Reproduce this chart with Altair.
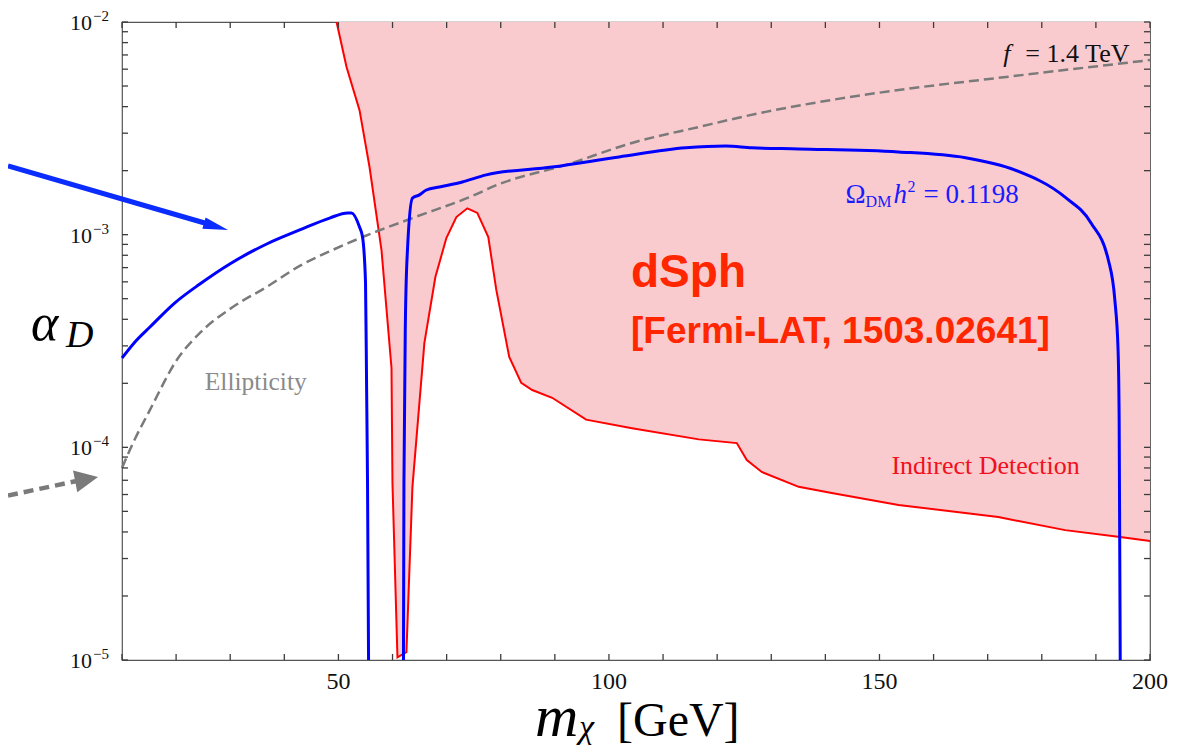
import altair as alt
import pandas as pd

# ---------------- data ----------------
# Relic-density curve (Omega_DM h^2 = 0.1198), left branch
relic_left_x = [10.0, 12.4, 15.17, 19.78, 24.39, 29.92, 36.75, 42.84, 48.37, 51.69,
                52.43, 53.9, 54.46, 55.01, 55.2, 55.38, 55.57]
relic_left_y = [2.63e-4, 3.13e-4, 3.68e-4, 4.78e-4, 5.86e-4, 7.28e-4, 9.04e-4, 1.052e-3,
                1.197e-3, 1.265e-3, 1.265e-3, 1.086e-3, 9.75e-4, 5.93e-4, 2.01e-4, 6.79e-5, 1e-5]
# right branch
relic_right_x = [62.02, 62.11, 62.39, 62.76, 63.68, 64.97, 66.26, 68.66, 72.9, 77.33, 89.5,
                 101.87, 114.2, 121.6, 126.4, 135.07, 153.5, 165.9, 175.1, 184.3, 189.1,
                 192.3, 193.5, 194.1, 194.3, 194.5]
relic_right_y = [1e-5, 6.79e-5, 4.10e-4, 8.47e-4, 1.486e-3, 1.538e-3, 1.622e-3, 1.675e-3,
                 1.770e-3, 1.910e-3, 2.08e-3, 2.32e-3, 2.56e-3, 2.61e-3, 2.56e-3, 2.53e-3,
                 2.45e-3, 2.30e-3, 2.01e-3, 1.50e-3, 1.135e-3, 7.60e-4, 4.93e-4, 2.87e-4,
                 1.35e-4, 1e-5]
# Ellipticity bound (f = 1.4 TeV), dashed
ellip_x = [10.0, 12.03, 15.17, 20.15, 24.39, 30.48, 36.75, 42.84, 48.92, 54.46, 63.68, 74.19,
           79.73, 92.09, 104.26, 116.62, 128.98, 141.16, 153.52, 171.96, 200.0]
ellip_y = [8.0e-5, 1.047e-4, 1.50e-4, 2.58e-4, 3.45e-4, 4.57e-4, 5.68e-4, 7.13e-4, 8.47e-4,
           9.75e-4, 1.197e-3, 1.50e-3, 1.73e-3, 2.13e-3, 2.70e-3, 3.21e-3, 3.78e-3, 4.30e-3,
           4.79e-3, 5.46e-3, 6.62e-3]
# Indirect detection (dSph, Fermi-LAT) exclusion boundary
id_x = [49.66, 51.5, 53.9, 55.75, 57.96, 59.81, 59.99, 60.91, 62.57, 63.68, 65.89, 67.92,
        69.95, 71.8, 73.83, 75.67, 77.7, 79.18, 81.57, 83.79, 85.82, 89.51, 95.78, 104.26,
        116.62, 123.63, 125.48, 128.24, 135.07, 141.16, 153.52, 171.96, 184.32, 194.47, 200.0]
id_y = [1e-2, 6.14e-3, 3.85e-3, 2.08e-3, 8.47e-4, 2.36e-4, 6.79e-5, 1.03e-5, 1.09e-5, 6.52e-5,
        3.10e-4, 6.32e-4, 9.64e-4, 1.21e-3, 1.33e-3, 1.265e-3, 9.75e-4, 5.50e-4, 2.66e-4,
        2.01e-4, 1.86e-4, 1.71e-4, 1.35e-4, 1.23e-4, 1.09e-4, 1.047e-4, 8.72e-5, 7.66e-5,
        6.52e-5, 6.10e-5, 5.36e-5, 4.70e-5, 4.08e-5, 3.79e-5, 3.63e-5]

# ticks and labels
x_tick_vals = [10, 20, 30, 40, 50, 60, 70, 80, 90, 100, 110, 120, 130, 140, 150, 160, 170,
               180, 190, 200]
y_tick_vals = [1e-5, 2e-5, 3e-5, 4e-5, 5e-5, 6e-5, 7e-5, 8e-5, 9e-5,
               1e-4, 2e-4, 3e-4, 4e-4, 5e-4, 6e-4, 7e-4, 8e-4, 9e-4,
               1e-3, 2e-3, 3e-3, 4e-3, 5e-3, 6e-3, 7e-3, 8e-3, 9e-3, 1e-2]
x_label_vals = [50, 100, 150, 200]
x_label_text = ["50", "100", "150", "200"]
y_label_vals = [1e-5, 1e-4, 1e-3, 1e-2]
y_label_base = ["10", "10", "10", "10"]
y_label_exp = ["\u22125", "\u22124", "\u22123", "\u22122"]

# ---------------- chart ----------------
W, H = 1028, 638
SERIF = "Liberation Serif"
SANS = "Liberation Sans"
FRAME = "#555555"
TICK = "#3c3c3c"
BLUE = "#0000ff"
RED = "#ff0000"
GRAY = "#7a7a7a"
PINK = "#f9cbce"
X_MIN, X_MAX = 10, 200
Y_MIN, Y_MAX = 1e-5, 1e-2
TL = 6  # tick length (px)

XS = alt.Scale(domain=[X_MIN, X_MAX], nice=False, zero=False)
YS = alt.Scale(type="log", domain=[Y_MIN, Y_MAX], nice=False)


def X(f):
    return alt.X(f, type="quantitative", scale=XS, axis=None)


def Y(f):
    return alt.Y(f, type="quantitative", scale=YS, axis=None)


one = pd.DataFrame({"a": [0]})

red_df = pd.DataFrame({"x": id_x, "y": id_y, "i": list(range(len(id_x)))})
fill = alt.Chart(red_df).mark_area(color=PINK, opacity=1).encode(
    x=X("x"), y=Y("y"), y2=alt.datum(Y_MAX))
red_line = alt.Chart(red_df).mark_line(color=RED, strokeWidth=2).encode(
    x=X("x"), y=Y("y"), order=alt.Order("i:Q"))

blue_df = pd.concat([
    pd.DataFrame({"x": relic_left_x, "y": relic_left_y, "b": "L",
                  "i": list(range(len(relic_left_x)))}),
    pd.DataFrame({"x": relic_right_x, "y": relic_right_y, "b": "R",
                  "i": list(range(len(relic_right_x)))}),
])
blue_line = alt.Chart(blue_df).mark_line(color=BLUE, strokeWidth=3, interpolate="monotone").encode(
    x=X("x"), y=Y("y"), detail="b:N", order=alt.Order("i:Q"))

ell_df = pd.DataFrame({"x": ellip_x, "y": ellip_y})
ell_line = alt.Chart(ell_df).mark_line(color=GRAY, strokeWidth=2.5, strokeDash=[10, 5],
                                       interpolate="monotone").encode(
    x=X("x"), y=Y("y"))

# inward frame ticks
xt = pd.DataFrame({"x": x_tick_vals})
yt = pd.DataFrame({"y": y_tick_vals})
tick_b = alt.Chart(xt).mark_tick(color=TICK, thickness=1.3, size=TL, orient="vertical",
                                 opacity=1).encode(x=X("x"), y=alt.value(H - TL / 2))
tick_t = alt.Chart(xt).mark_tick(color=TICK, thickness=1.3, size=TL, orient="vertical",
                                 opacity=1).encode(x=X("x"), y=alt.value(TL / 2))
tick_l = alt.Chart(yt).mark_tick(color=TICK, thickness=1.3, size=TL, orient="horizontal",
                                 opacity=1).encode(y=Y("y"), x=alt.value(TL / 2))
tick_r = alt.Chart(yt).mark_tick(color=TICK, thickness=1.3, size=TL, orient="horizontal",
                                 opacity=1).encode(y=Y("y"), x=alt.value(W - TL / 2))

# tick labels
xl = pd.DataFrame({"x": x_label_vals, "t": x_label_text})
x_labels = alt.Chart(xl).mark_text(font=SERIF, fontSize=24, color="#111", align="center",
                                   baseline="alphabetic").encode(
    x=X("x"), y=alt.value(667), text="t:N")
yl = pd.DataFrame({"y": y_label_vals, "b": y_label_base, "e": y_label_exp})
y_lab_base = alt.Chart(yl).mark_text(font=SERIF, fontSize=22, color="#111", align="right",
                                     baseline="alphabetic", dy=8).encode(
    y=Y("y"), x=alt.value(-30), text="b:N")
y_lab_exp = alt.Chart(yl).mark_text(font=SERIF, fontSize=15, color="#111", align="left",
                                    baseline="alphabetic", dy=-1).encode(
    y=Y("y"), x=alt.value(-29), text="e:N")


def ptext(txt, px, py, **kw):
    return alt.Chart(one).mark_text(align="left", baseline="alphabetic", **kw).encode(
        x=alt.value(px), y=alt.value(py), text=alt.value(txt))


def dtext(txt, x, y, **kw):
    d = pd.DataFrame({"x": [x], "y": [y]})
    return alt.Chart(d).mark_text(align="left", baseline="alphabetic", **kw).encode(
        x=X("x"), y=Y("y"), text=alt.value(txt))


# axis titles
titles = [
    ptext("m", 413, 714, font=SERIF, fontSize=60, fontStyle="italic", color="#000"),
    ptext("\u03c7", 457, 716, font=SERIF, fontSize=34, fontStyle="italic", color="#000"),
    ptext("[GeV]", 495, 714, font=SERIF, fontSize=48, color="#000"),
    ptext("\u03b1", -91, 318, font=SERIF, fontSize=52, fontStyle="italic", color="#000"),
    ptext("D", -56, 325, font=SERIF, fontSize=38, fontStyle="italic", color="#000"),
]

# in-plot annotations (data coordinates)
OM_X, OM_Y = 143.74, 1.41e-3
annos = [
    dtext("dSph", 104.08, 5.68e-4, font=SANS, fontSize=46, fontWeight="bold", color="#ff2600"),
    dtext("[Fermi-LAT, 1503.02641]", 104.08, 3.10e-4, font=SANS, fontSize=37,
          fontWeight="bold", color="#ff2600"),
    dtext("Indirect Detection", 152.2, 7.50e-5, font=SERIF, fontSize=26, color="#f01020"),
    dtext("Ellipticity", 25.3, 1.86e-4, font=SERIF, fontSize=25.5, color="#8a8a8a"),
    dtext("f", 172.9, 6.49e-3, font=SERIF, fontSize=26, fontStyle="italic", color="#111"),
    dtext("= 1.4 TeV", 172.9, 6.49e-3, font=SERIF, fontSize=26, color="#111", dx=22),
    dtext("\u03a9", OM_X, OM_Y, font=SERIF, fontSize=27, color="#1a1aff"),
    dtext("DM", OM_X, OM_Y, font=SERIF, fontSize=16, color="#1a1aff", dx=20, dy=4),
    dtext("h", OM_X, OM_Y, font=SERIF, fontSize=27, fontStyle="italic", color="#1a1aff", dx=48),
    dtext("2", OM_X, OM_Y, font=SERIF, fontSize=16, color="#1a1aff", dx=62, dy=-11),
    dtext("= 0.1198", OM_X, OM_Y, font=SERIF, fontSize=27, color="#1a1aff", dx=78),
]

# arrows pointing at the curves from the left margin
arrows = [
    alt.Chart(one).mark_rule(color="#0a2cff", strokeWidth=5).encode(
        x=alt.value(-114), x2=alt.value(93), y=alt.value(144), y2=alt.value(204)),
    alt.Chart(one).mark_point(shape="M1,0L-1,-0.47L-1,0.47Z", filled=True, size=625,
                              angle=16, color="#0a2cff", opacity=1).encode(
        x=alt.value(94), y=alt.value(204.5)),
    alt.Chart(one).mark_rule(color=GRAY, strokeWidth=4.5, strokeDash=[10, 6]).encode(
        x=alt.value(-114), x2=alt.value(-38), y=alt.value(473.5), y2=alt.value(457.5)),
    alt.Chart(one).mark_point(shape="M1,0L-1,-0.95L-1,0.95Z", filled=True, size=543,
                              angle=349, color=GRAY, opacity=1).encode(
        x=alt.value(-35.4), y=alt.value(457.2)),
]

chart = alt.layer(
    fill, red_line, ell_line, blue_line,
    tick_b, tick_t, tick_l, tick_r,
    x_labels, y_lab_base, y_lab_exp,
    *titles, *annos, *arrows,
).properties(
    width=W, height=H,
    autosize=alt.AutoSizeParams(type="none"),
    padding={"left": 114, "top": 14, "right": 24, "bottom": 88},
).configure_view(stroke=FRAME, strokeWidth=1.2)

chart.save("out.html", embed_options={"renderer": "svg", "actions": False})
